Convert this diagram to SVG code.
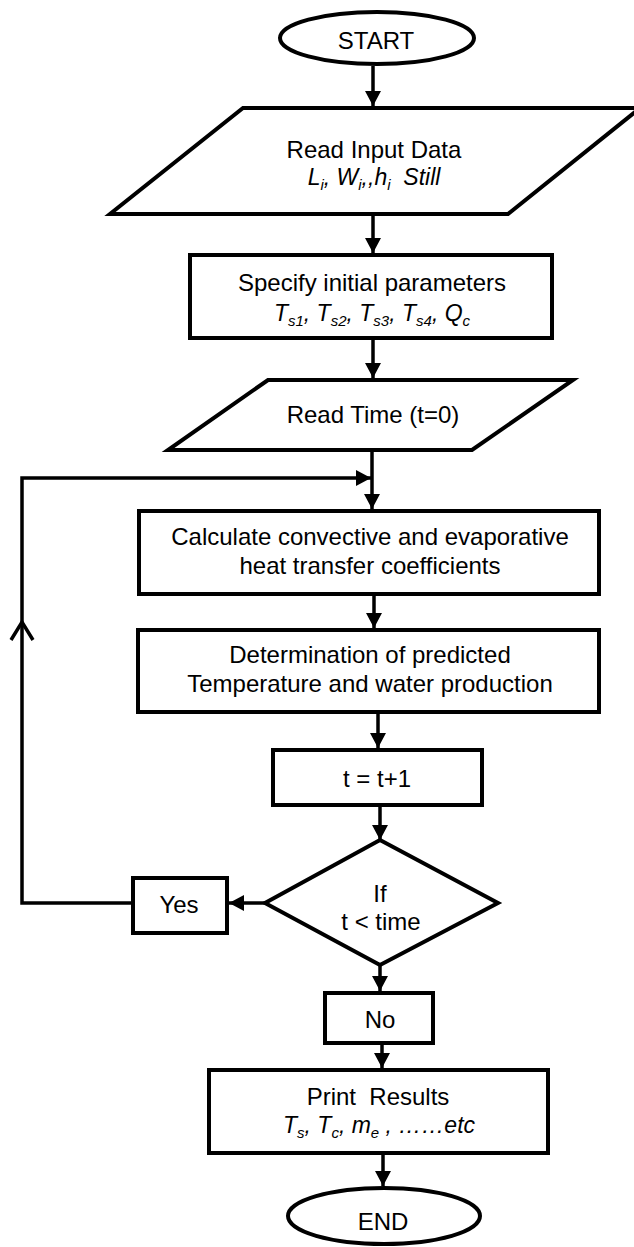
<svg xmlns="http://www.w3.org/2000/svg" width="634" height="1247" viewBox="0 0 634 1247">
  <style>
    .shape { fill: #ffffff; stroke: #000000; stroke-width: 4; stroke-linejoin: miter; }
    .conn { fill: none; stroke: #000000; stroke-width: 3.5; }
    .t { font-family: "Liberation Sans", Arial, sans-serif; font-size: 24px; fill: #000000; text-anchor: middle; }
    .it { font-family: "Liberation Sans", Arial, sans-serif; font-size: 23px; font-style: italic; fill: #000000; text-anchor: middle; }
    .sub { font-size: 15px; }
  </style>
  <defs>
    <marker id="arrow" viewBox="0 0 15 16" refX="15" refY="8" markerWidth="15" markerHeight="16" markerUnits="userSpaceOnUse" orient="auto">
      <path d="M0,0 L15,8 L0,16 Z" fill="#000000"/>
    </marker>
  </defs>
  <rect x="0" y="0" width="634" height="1247" fill="#ffffff"/>

  <g id="connectors">
    <line class="conn" x1="373" y1="66" x2="373" y2="106" marker-end="url(#arrow)"/>
    <line class="conn" x1="373" y1="216" x2="373" y2="253" marker-end="url(#arrow)"/>
    <line class="conn" x1="373" y1="340" x2="373" y2="378" marker-end="url(#arrow)"/>
    <line class="conn" x1="372" y1="452" x2="372" y2="509" marker-end="url(#arrow)"/>
    <line class="conn" x1="374" y1="596" x2="374" y2="628" marker-end="url(#arrow)"/>
    <line class="conn" x1="378" y1="714" x2="378" y2="748" marker-end="url(#arrow)"/>
    <line class="conn" x1="380" y1="807" x2="380" y2="840" marker-end="url(#arrow)"/>
    <line class="conn" x1="265" y1="903" x2="229" y2="903" marker-end="url(#arrow)"/>
    <line class="conn" x1="380" y1="965" x2="380" y2="991" marker-end="url(#arrow)"/>
    <line class="conn" x1="382" y1="1045" x2="382" y2="1068" marker-end="url(#arrow)"/>
    <line class="conn" x1="383" y1="1155" x2="383" y2="1186" marker-end="url(#arrow)"/>
    <polyline class="conn" points="131,903 22,903 22,478 371,478" marker-end="url(#arrow)"/>
    <polyline class="conn" points="11,640 22,622 33,640"/>
  </g>

  <g id="start">
    <ellipse class="shape" cx="377" cy="38" rx="97" ry="26"/>
    <text class="t" x="376" y="49">START</text>
  </g>

  <g id="read-input">
    <polygon class="shape" points="243,108 640,108 508,214 110,214"/>
    <text class="t" x="374" y="158">Read Input Data</text>
    <text class="it" x="374" y="185" xml:space="preserve">L<tspan class="sub" dy="5">i</tspan><tspan dy="-5">, W</tspan><tspan class="sub" dy="5">i</tspan><tspan dy="-5">,,h</tspan><tspan class="sub" dy="5">i</tspan><tspan dy="-5">  Still</tspan></text>
  </g>

  <g id="specify">
    <rect class="shape" x="190" y="255" width="362" height="83"/>
    <text class="t" x="372" y="291">Specify initial parameters</text>
    <text class="it" x="372" y="321" xml:space="preserve">T<tspan class="sub" dy="5">s1</tspan><tspan dy="-5">, T</tspan><tspan class="sub" dy="5">s2</tspan><tspan dy="-5">, T</tspan><tspan class="sub" dy="5">s3</tspan><tspan dy="-5">, T</tspan><tspan class="sub" dy="5">s4</tspan><tspan dy="-5">, Q</tspan><tspan class="sub" dy="5">c</tspan></text>
  </g>

  <g id="read-time">
    <polygon class="shape" points="268,380 573,380 472,450 168,450"/>
    <text class="t" x="373" y="423">Read Time (t=0)</text>
  </g>

  <g id="calculate">
    <rect class="shape" x="139" y="511" width="460" height="83"/>
    <text class="t" x="370" y="545">Calculate convective and evaporative</text>
    <text class="t" x="370" y="574">heat transfer coefficients</text>
  </g>

  <g id="determination">
    <rect class="shape" x="138" y="630" width="461" height="82"/>
    <text class="t" x="370" y="663">Determination of predicted</text>
    <text class="t" x="370" y="692">Temperature and water production</text>
  </g>

  <g id="increment">
    <rect class="shape" x="273" y="750" width="209" height="55"/>
    <text class="t" x="377" y="787">t = t+1</text>
  </g>

  <g id="decision">
    <polygon class="shape" points="380,840 498,903 380,965 265,903"/>
    <text class="t" x="380" y="902">If</text>
    <text class="t" x="381" y="930">t &lt; time</text>
  </g>

  <g id="yes">
    <rect class="shape" x="133" y="878" width="94" height="55"/>
    <text class="t" x="179" y="913">Yes</text>
  </g>

  <g id="no">
    <rect class="shape" x="325" y="993" width="108" height="50"/>
    <text class="t" x="380" y="1028">No</text>
  </g>

  <g id="print">
    <rect class="shape" x="209" y="1070" width="339" height="83"/>
    <text class="t" x="378" y="1105" xml:space="preserve">Print  Results</text>
    <text class="it" x="379" y="1133" xml:space="preserve">T<tspan class="sub" dy="5">s</tspan><tspan dy="-5">, T</tspan><tspan class="sub" dy="5">c</tspan><tspan dy="-5">, m</tspan><tspan class="sub" dy="5">e</tspan><tspan dy="-5"> , ……etc</tspan></text>
  </g>

  <g id="end">
    <ellipse class="shape" cx="384" cy="1216" rx="96" ry="28"/>
    <text class="t" x="383" y="1230">END</text>
  </g>
</svg>
